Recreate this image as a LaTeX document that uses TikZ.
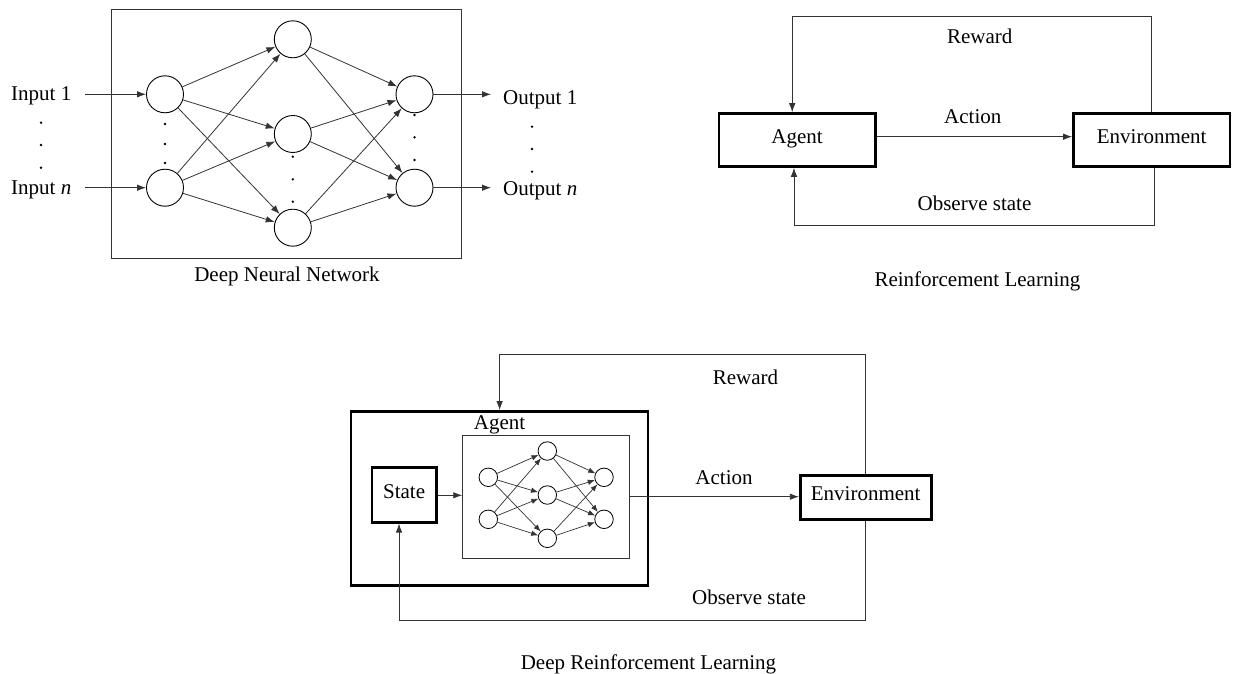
\documentclass[tikz,border=0pt]{standalone}
\usepackage{fontspec}
\setmainfont{Liberation Serif}
\usetikzlibrary{arrows.meta}
\begin{document}
\begin{tikzpicture}[x=1pt,y=-1pt,
  font=\fontsize{21}{25}\selectfont,
  thin/.style={draw=black!80,line width=0.8pt},
  neuron/.style={circle,draw=black,line width=0.9pt,minimum size=37pt,inner sep=0pt},
  sneuron/.style={circle,draw=black,line width=0.8pt,minimum size=18.5pt,inner sep=0pt},
  thinbox/.style={draw=black!80,line width=0.9pt,inner sep=0pt},
  thickbox/.style={draw=black,line width=2.6pt,inner sep=0pt,text height=0.7em,text depth=0.03em},
  lbl/.style={inner sep=0pt,anchor=base},
  arr/.style={thin,-{Latex[length=9pt,width=6.5pt]}},
  sarr/.style={thin,line width=0.7pt,-{Latex[length=7pt,width=5.5pt]}},
  dotf/.style={fill=black}
]
\useasboundingbox (0,0) rectangle (1233,674);

% ================= Deep Neural Network =================
\node[thinbox,minimum width=350pt,minimum height=249pt] (dnnbox) at (286.8,133.5) {};
\node[neuron] (i1) at (165,94.3) {};
\node[neuron] (in) at (165,187.7) {};
\node[neuron] (h1) at (292.8,39.3) {};
\node[neuron] (h2) at (292.8,134) {};
\node[neuron] (h3) at (292.8,227.7) {};
\node[neuron] (o1) at (414.5,94.3) {};
\node[neuron] (on) at (414.5,187.7) {};
\foreach \a in {i1,in}{\foreach \b in {h1,h2,h3}{\draw[arr] (\a) -- (\b);}}
\foreach \a in {h1,h2,h3}{\foreach \b in {o1,on}{\draw[arr] (\a) -- (\b);}}

\node[lbl,anchor=base west] (tin1) at (11,101) {Input 1};
\node[lbl,anchor=base west] (tinn) at (11,194.5) {Input \textit{n}};
\coordinate (ai1) at (85,94.3);
\coordinate (ain) at (85,187.7);
\draw[arr] (ai1) -- (i1);
\draw[arr] (ain) -- (in);

\coordinate (ao1) at (491,94.3);
\coordinate (aon) at (491,187.7);
\draw[arr] (o1) -- (ao1);
\draw[arr] (on) -- (aon);
\node[lbl,anchor=base west] (tout1) at (503,105) {Output 1};
\node[lbl,anchor=base west] (toutn) at (503,195) {Output \textit{n}};

\foreach \y in {122.7,145,167.7}{\fill[dotf] (41,\y) circle (1.3pt);}
\foreach \y in {124,144,163}{\fill[dotf] (165,\y) circle (1.3pt);}
\foreach \y in {156.7,179.3,201.7}{\fill[dotf] (292.8,\y) circle (1.3pt);}
\foreach \y in {115,137.3,160}{\fill[dotf] (414.5,\y) circle (1.3pt);}
\foreach \y in {126.7,149,171.7}{\fill[dotf] (532,\y) circle (1.3pt);}

\node[lbl] (tdnn) at (287,281) {Deep Neural Network};

% ================= Reinforcement Learning =================
\node[thickbox,minimum width=156.5pt,minimum height=53pt] (agent) at (797.1,140) {Agent};
\node[thickbox,minimum width=156.5pt,minimum height=53pt] (env) at (1151.7,140) {Environment};
\draw[arr] ([yshift=3.3pt]agent.east) -- ([yshift=3.3pt]env.west);
\coordinate (rtl) at (792.2,16.7);
\draw[arr] (env.north) |- (rtl) -- (agent.north -| rtl);
\coordinate (obr) at (1154.4,225.7);
\coordinate (obl) at (794,225.7);
\draw[arr] (env.south -| obr) -- (obr) -- (obl) -- (agent.south -| obl);
\node[lbl] (trw) at (979.8,43.3) {Reward};
\node[lbl] (tac) at (972.8,123.3) {Action};
\node[lbl] (tob) at (974.5,210.7) {Observe state};
\node[lbl] (trl) at (977.4,286) {Reinforcement Learning};

% ================= Deep Reinforcement Learning =================
\node[thickbox,minimum width=297pt,minimum height=174pt] (dagent) at (499.5,498.4) {};
\node[lbl] (tdag) at (499.6,429.5) {Agent};
\node[thinbox,minimum width=166.6pt,minimum height=123pt] (nnbox) at (546,497.4) {};
\node[thickbox,minimum width=64.5pt,minimum height=55pt] (state) at (404.1,494.7) {State};
\draw[arr] (state.east |- 0,495.3) -- (nnbox.west |- 0,495.3);

\node[sneuron] (si1) at (488.3,477.3) {};
\node[sneuron] (si2) at (488.3,519.3) {};
\node[sneuron] (sh1) at (547.3,451) {};
\node[sneuron] (sh2) at (547.3,495) {};
\node[sneuron] (sh3) at (547.3,538.3) {};
\node[sneuron] (so1) at (604,477.3) {};
\node[sneuron] (so2) at (604,519.3) {};
\foreach \a in {si1,si2}{\foreach \b in {sh1,sh2,sh3}{\draw[sarr] (\a) -- (\b);}}
\foreach \a in {sh1,sh2,sh3}{\foreach \b in {so1,so2}{\draw[sarr] (\a) -- (\b);}}

\node[thickbox,minimum width=131pt,minimum height=44pt] (denv) at (865.7,497.5) {Environment};
\draw[arr] (nnbox.east |- 0,496.7) -- (denv.west |- 0,496.7);
\coordinate (drtl) at (499.6,354);
\draw[arr] (denv.north) |- (drtl) -- (dagent.north -| drtl);
\coordinate (dobr) at (865.7,620.3);
\coordinate (dobl) at (399,620.3);
\draw[arr] (denv.south) -- (dobr) -- (dobl) -- (state.south -| dobl);
\node[lbl] (tdrw) at (745.4,384) {Reward};
\node[lbl] (tdac) at (724,484) {Action};
\node[lbl] (tdob) at (749,604.3) {Observe state};
\node[lbl] (tdrl) at (648.5,669.3) {Deep Reinforcement Learning};
\end{tikzpicture}
\end{document}
